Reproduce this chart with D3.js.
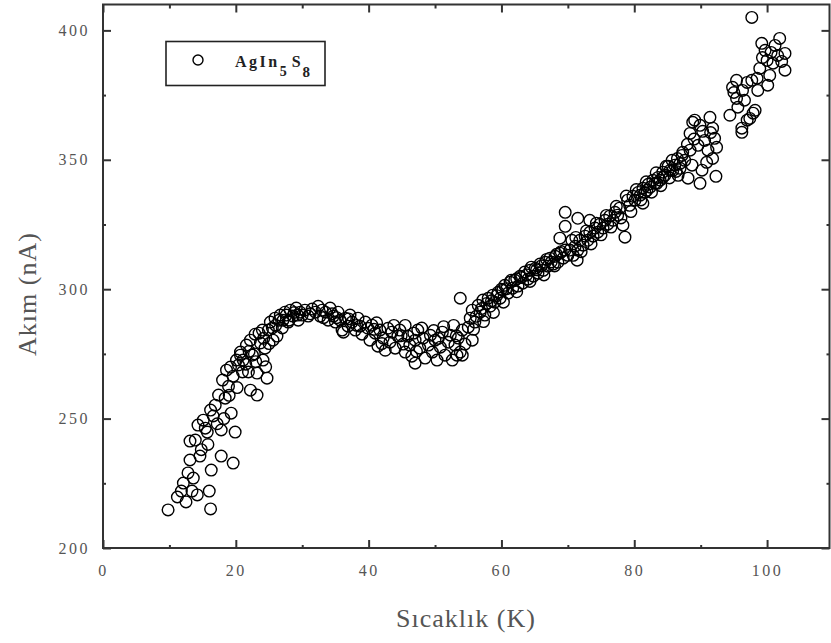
<!DOCTYPE html>
<html>
<head>
<meta charset="utf-8">
<script src="https://cdn.jsdelivr.net/npm/d3@7/dist/d3.min.js"></script>
<style>
html,body{margin:0;padding:0;background:#fff;}
svg{display:block;}
</style>
</head>
<body>
<svg id="chart" width="831" height="643"></svg>
<script>
// ---- data ----
const seriesName = "AgIn5S8";
const xTickValues = [0, 20, 40, 60, 80, 100];
const yTickValues = [200, 250, 300, 350, 400];
const xTitle = "Sıcaklık (K)";
const yTitle = "Akım (nA)";

const temperatureK = [
  9.8,11.2,12.1,12.5,13.1,13.1,13.6,14.2,14.6,15.4,16.0,16.2,16.3,17.8,17.8,16.6,16.2,19.6,19.9,18.4,
  19.3,18.9,19.6,20.4,13.9,14.3,15.1,15.7,16.9,17.4,18.0,18.6,19.2,20.1,20.7,
  20.7,21.1,21.6,21.9,22.2,22.5,22.9,23.2,23.2,23.7,24.0,24.4,24.7,24.9,25.2,25.6,25.9,26.2,26.7,27.1,
  27.4,27.9,28.2,28.6,29.1,29.7,29.4,22.2,24.1,
  21.0,21.5,22.0,22.8,23.5,24.2,25.0,25.5,26.0,26.5,27.0,27.6,28.0,28.8,29.3,30.0,23.0,24.5,20.2,19.0,
  17.2,18.2,15.8,14.8,12.8,13.4,11.8,
  30.4,30.9,31.5,32.0,32.4,32.7,33.0,33.5,33.9,34.2,34.7,35.0,35.4,35.7,36.0,36.5,36.9,37.2,37.5,38.0,
  38.4,38.7,39.0,39.5,39.9,36.2,31.2,33.2,34.5,35.2,37.0,38.2,
  40.2,40.5,41.0,41.4,41.7,42.2,42.5,42.9,43.2,43.5,44.0,44.4,44.7,45.2,45.5,45.9,46.2,46.5,47.0,47.4,
  47.7,48.2,48.5,49.0,49.3,49.6,50.0,50.3,50.8,51.1,51.5,52.0,52.3,52.6,53.0,53.5,53.8,54.1,54.5,55.0,
  53.8,55.6,53.3,54.1,47.0,
  40.8,41.2,43.8,44.9,46.8,48.0,49.8,51.3,52.8,42.0,45.5,47.2,50.5,53.2,
  55.3,55.6,56.0,56.5,56.8,57.2,57.5,58.0,58.3,58.7,59.0,59.5,59.8,60.2,60.5,61.0,61.3,61.7,62.0,62.5,
  62.8,63.2,63.5,64.0,64.3,64.8,65.1,65.5,65.8,66.3,66.6,67.0,67.3,67.8,68.1,68.5,68.8,69.3,69.6,70.0,
  69.6,69.6,71.5,73.3,68.8,71.4,70.6,
  56.2,57.0,57.8,58.5,59.3,60.0,60.8,61.5,62.3,63.0,63.8,64.5,65.3,66.0,66.8,67.5,68.3,69.0,
  55.8,57.3,58.8,60.3,62.3,64.3,66.4,68.0,
  70.3,70.8,71.1,71.5,71.8,72.3,72.6,73.0,73.3,73.8,74.1,74.5,74.8,75.3,75.6,76.0,76.3,76.8,77.1,77.5,
  77.8,78.6,78.3,79.0,79.3,79.8,80.1,80.6,80.9,81.3,81.6,82.1,82.4,82.8,83.1,83.6,83.9,84.3,84.6,85.1,
  85.4,85.7,86.1,86.6,86.9,87.2,87.6,88.1,88.4,88.7,
  72.0,73.5,75.0,76.5,78.0,79.5,81.0,82.6,84.0,85.3,86.3,71.2,72.8,74.3,75.8,77.3,78.8,80.3,81.8,83.3,
  84.8,86.5,88.0,89.0,90.3,91.5,90.2,91.8,
  89.9,92.3,90.9,89.9,91.4,88.8,92.1,92.4,88.4,87.3,86.9,85.8,84.3,83.4,81.9,81.3,89.1,91.8,90.6,89.6,
  91.1,94.4,96.2,97.9,97.0,97.7,101.9,99.2,102.7,102.7,100.9,100.0,98.9,100.1,98.5,97.0,95.4,94.8,96.3,95.4,
  95.6,98.2,97.4,96.2,101.2,100.4,101.6,99.7,98.6,96.6,97.7,95.0,99.3,102.2,100.6
];
const currentNA = [
  214.7,219.7,225.1,217.8,241.3,234.0,227.0,220.5,235.5,246.3,222.0,215.1,230.1,235.5,245.6,251.0,253.3,232.8,244.8,257.9,
  252.1,262.5,266.4,270.7,241.7,247.5,249.4,244.8,255.2,259.1,264.9,268.7,269.9,272.6,274.5,
  275.7,272.6,278.4,268.0,280.3,274.5,282.6,267.6,259.1,279.2,284.2,277.2,265.6,284.2,287.3,280.3,288.8,281.9,290.0,288.0,
  291.1,287.3,291.9,289.6,292.7,291.1,288.0,261.0,272.6,
  268.0,271.0,276.0,275.0,283.0,281.0,279.0,285.0,286.0,288.0,285.0,290.0,288.0,291.0,290.0,290.0,272.0,270.0,262.0,259.0,
  248.0,250.0,240.0,238.0,229.0,222.0,222.0,
  291.9,289.6,292.3,291.1,293.4,289.6,291.9,291.1,288.0,292.7,289.6,287.3,291.1,288.0,284.2,288.8,285.7,290.0,287.3,284.2,
  288.8,285.7,282.6,287.3,284.9,283.4,290.5,289.0,290.5,289.0,288.5,286.0,
  280.3,286.1,283.0,278.0,284.2,281.1,276.4,284.9,279.5,283.4,277.2,281.9,284.2,278.8,275.7,281.9,278.4,274.1,280.3,284.2,
  277.2,281.1,273.4,278.4,282.2,275.7,280.3,272.6,277.6,283.4,274.5,279.5,282.2,272.6,278.4,281.1,275.7,284.2,278.8,285.3,
  296.5,280.3,274.5,274.5,271.4,
  284.5,287.0,286.0,282.0,283.0,285.0,284.0,285.5,286.0,279.0,286.0,276.0,281.0,282.0,
  288.8,291.9,287.3,293.8,291.1,295.8,290.0,296.5,293.4,297.7,295.0,298.8,296.5,299.6,301.5,298.5,302.7,300.4,303.5,301.2,
  305.0,302.3,306.6,303.9,307.3,305.0,308.1,306.2,309.7,307.3,310.4,308.9,312.0,309.7,312.7,310.4,313.9,312.0,315.1,313.1,
  329.7,324.3,327.4,326.6,319.7,311.2,318.9,
  289.5,292.5,294.5,295.5,297.5,300.0,300.2,303.5,304.0,304.5,305.5,308.5,307.5,309.0,311.5,310.5,313.5,314.5,
  284.5,287.5,291.0,295.0,299.0,303.0,305.5,309.0,
  315.1,313.1,316.6,315.1,318.9,317.0,320.5,318.9,322.0,320.5,323.6,322.0,325.1,323.6,326.6,325.1,328.2,326.6,329.7,328.6,
  331.3,320.1,324.7,334.4,332.4,335.9,334.4,337.4,336.3,339.0,337.4,340.5,339.4,342.1,340.9,343.2,342.1,345.2,344.0,347.5,
  345.9,349.8,347.9,344.0,346.7,351.7,349.8,342.9,353.7,347.9,
  314.5,317.5,321.0,324.0,327.5,330.0,334.5,337.5,340.0,343.0,345.5,320.0,322.5,325.5,328.5,332.0,336.0,338.5,341.5,345.0,
  347.5,350.5,356.0,358.0,361.0,360.5,346.0,350.5,
  340.9,343.6,349.0,363.3,366.4,364.5,358.3,354.8,360.2,352.9,348.6,345.9,343.2,340.9,338.2,333.2,365.3,362.2,357.5,355.6,
  353.7,367.2,360.6,368.0,365.3,405.0,396.9,395.0,391.1,384.6,387.3,388.4,385.3,378.8,381.5,379.9,380.7,378.0,376.8,373.7,
  370.3,369.1,366.0,362.2,394.2,382.6,390.3,392.3,376.8,373.0,380.7,376.0,389.5,388.0,391.5
];

// ---- layout ----
const svg = d3.select("#chart");
const plot = {left: 103, right: 829.5, top: 4.5, bottom: 548};
const x = d3.scaleLinear().domain([0, 109.4]).range([plot.left, plot.right]);
const y = d3.scaleLinear().domain([200, 410]).range([plot.bottom, plot.top]);

const points = temperatureK.map((t, i) => ({t, c: currentNA[i]}));

// data markers
svg.append("g")
  .selectAll("circle")
  .data(points)
  .join("circle")
  .attr("cx", d => x(d.t))
  .attr("cy", d => y(d.c))
  .attr("r", 5.8)
  .attr("fill", "none")
  .attr("stroke", "#000")
  .attr("stroke-width", 1.4);

// axes with inward ticks
const xMinor = d3.range(10, 110, 20);
const yMinor = d3.range(225, 410, 50);
const axisColor = "#333";

function tickAxis(axisGen, transform) {
  const g = svg.append("g").attr("transform", transform).call(axisGen);
  g.select(".domain").remove();
  g.selectAll("line").attr("stroke", axisColor).attr("stroke-width", 2);
  return g;
}

// bottom
const xb = tickAxis(d3.axisBottom(x).tickValues(xTickValues).tickSize(-8).tickPadding(17).tickFormat(d3.format("d")),
  `translate(0,${plot.bottom})`);
xb.selectAll("text").attr("font-family", "Liberation Serif, serif").attr("font-size", 16)
  .attr("letter-spacing", "2.5px").attr("fill", "#555");
tickAxis(d3.axisBottom(x).tickValues(xMinor).tickSize(-3).tickFormat(""), `translate(0,${plot.bottom})`);
// top
tickAxis(d3.axisTop(x).tickValues(xTickValues).tickSize(-8).tickFormat(""), `translate(0,${plot.top})`);
tickAxis(d3.axisTop(x).tickValues(xMinor).tickSize(-4).tickFormat(""), `translate(0,${plot.top})`);
// left
const yl = tickAxis(d3.axisLeft(y).tickValues(yTickValues).tickSize(-8).tickPadding(13).tickFormat(d3.format("d")),
  `translate(${plot.left},0)`);
yl.selectAll("text").attr("font-family", "Liberation Serif, serif").attr("font-size", 16)
  .attr("letter-spacing", "2.5px").attr("fill", "#555");
tickAxis(d3.axisLeft(y).tickValues(yMinor).tickSize(-3).tickFormat(""), `translate(${plot.left},0)`);
// right
tickAxis(d3.axisRight(y).tickValues(yTickValues).tickSize(-8).tickFormat(""), `translate(${plot.right},0)`);
tickAxis(d3.axisRight(y).tickValues(yMinor).tickSize(-3).tickFormat(""), `translate(${plot.right},0)`);

// frame
svg.append("rect")
  .attr("x", plot.left).attr("y", plot.top)
  .attr("width", plot.right - plot.left).attr("height", plot.bottom - plot.top)
  .attr("fill", "none").attr("stroke", axisColor).attr("stroke-width", 2);

// axis titles
svg.append("text")
  .attr("x", 466).attr("y", 627)
  .attr("text-anchor", "middle")
  .attr("font-family", "Liberation Serif, serif").attr("font-size", 26)
  .attr("letter-spacing", "1px").attr("fill", "#555")
  .text(xTitle);
svg.append("text")
  .attr("transform", "translate(36,294) rotate(-90)")
  .attr("text-anchor", "middle")
  .attr("font-family", "Liberation Serif, serif").attr("font-size", 26)
  .attr("letter-spacing", "1px").attr("fill", "#555")
  .text(yTitle);

// legend
const lg = svg.append("g");
lg.append("rect").attr("x", 166).attr("y", 41.5).attr("width", 159).attr("height", 44)
  .attr("fill", "#fff").attr("stroke", "#222").attr("stroke-width", 1.6);
lg.append("circle").attr("cx", 198).attr("cy", 60).attr("r", 5)
  .attr("fill", "none").attr("stroke", "#000").attr("stroke-width", 1.4);
const lt = lg.append("text").attr("x", 235).attr("y", 67)
  .attr("font-family", "Liberation Serif, serif").attr("font-weight", "bold")
  .attr("font-size", 16).attr("fill", "#222");
lt.append("tspan").attr("letter-spacing", "2.5px").text(seriesName.slice(0, 4));
lt.append("tspan").attr("dy", 9).attr("font-size", 14).text(seriesName.slice(4, 5));
lt.append("tspan").attr("dy", -9).attr("dx", 5).attr("letter-spacing", "2px").text(seriesName.slice(5, 6));
lt.append("tspan").attr("dy", 10).attr("font-size", 15).text(seriesName.slice(6, 7));
</script>
</body>
</html>
